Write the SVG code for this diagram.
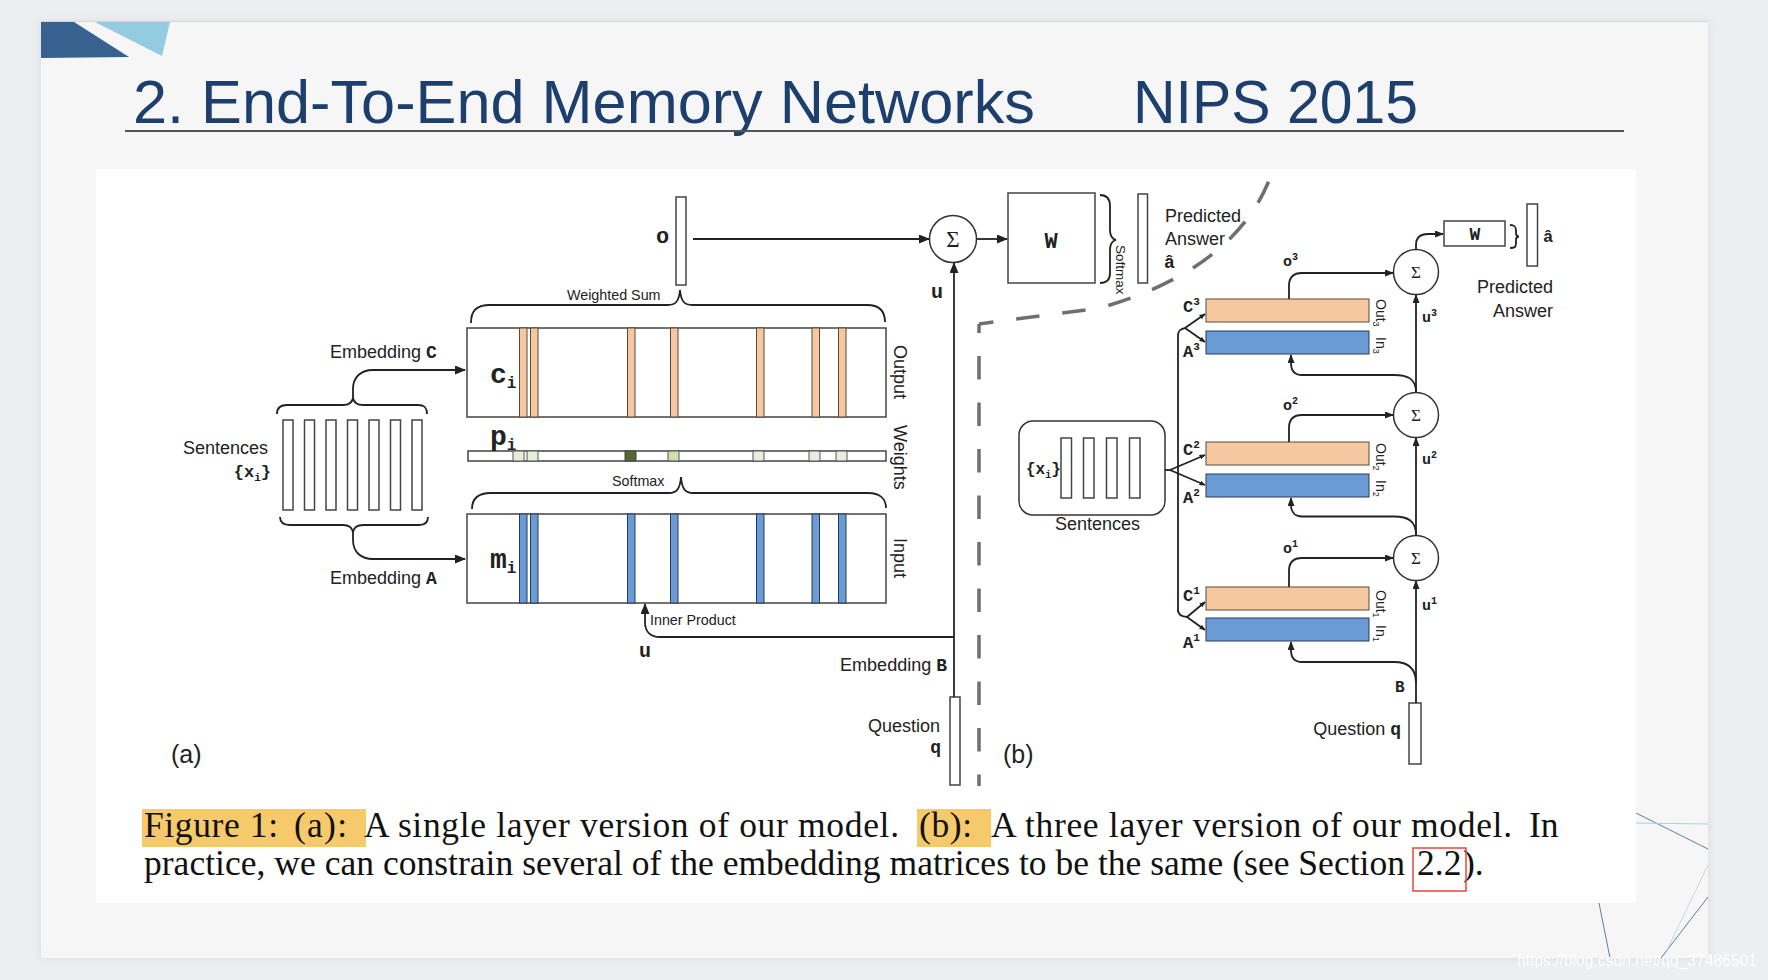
<svg xmlns="http://www.w3.org/2000/svg" width="1768" height="980" viewBox="0 0 1768 980">
<defs>
<style>
.lbl{font-family:"Liberation Sans",Arial,sans-serif;font-size:18px;fill:#222}
.sm{font-size:14.3px}
.mono{font-family:"Liberation Mono","Courier New",monospace;font-weight:bold;fill:#222}
.sig{font-family:"Liberation Serif","Times New Roman",serif;fill:#222}
.ln{fill:none;stroke:#222;stroke-width:1.8}
.box{fill:#fff;stroke:#444;stroke-width:1.5}
.or{fill:#f5c8a1;stroke:#5a4a3a;stroke-width:1}
.bl{fill:#6b9bd6;stroke:#2a3a55;stroke-width:1}
.cap{font-family:"Liberation Serif","Times New Roman",serif;font-size:35.5px;fill:#111}
.deco{fill:none;stroke-width:1}
.dash{fill:none;stroke:#6f6f6f;stroke-width:3.5;stroke-dasharray:23.5 23}
</style>
<marker id="arA" markerWidth="11" markerHeight="9" refX="10" refY="4.5" orient="auto" markerUnits="userSpaceOnUse"><path d="M0,0 L11,4.5 L0,9 z" fill="#222"/></marker>
<marker id="arB" markerWidth="9" markerHeight="7" refX="8" refY="3.5" orient="auto" markerUnits="userSpaceOnUse"><path d="M0,0 L9,3.5 L0,7 z" fill="#222"/></marker>
<marker id="arS" markerWidth="6" markerHeight="5" refX="5.5" refY="2.5" orient="auto" markerUnits="userSpaceOnUse"><path d="M0,0 L6,2.5 L0,5 z" fill="#222"/></marker>
<filter id="sh" x="-5%" y="-5%" width="110%" height="110%"><feGaussianBlur stdDeviation="5"/></filter>
</defs>

<!-- slide background -->
<rect x="0" y="0" width="1768" height="980" fill="#eceef1"/>
<rect x="41" y="22" width="1667" height="936" fill="#d9dbe0" filter="url(#sh)"/>
<rect x="41" y="21" width="1667" height="937" fill="#f6f6f6"/>
<line x1="41" y1="21.5" x2="1708" y2="21.5" stroke="#d6d6d6" stroke-width="1"/>

<!-- corner decoration -->
<polygon points="41,22 74,22 129,57 41,58" fill="#37618f"/>
<polygon points="95,22 170,22 162,56" fill="#93cbe0"/>

<!-- bottom-right decorative lines -->
<g id="deco-lines">
<line class="deco" x1="1636" y1="813" x2="1708" y2="849" stroke="#5b7fa8"/>
<line class="deco" x1="1636" y1="823" x2="1708" y2="824" stroke="#a6d3e6"/>
<line class="deco" x1="1599" y1="903" x2="1610" y2="958" stroke="#5b7fa8"/>
<line class="deco" x1="1661" y1="958" x2="1708" y2="897" stroke="#5b7fa8"/>
<line class="deco" x1="1708" y1="865" x2="1667" y2="950" stroke="#b8dcea"/>
</g>

<!-- title -->
<g id="title">
<text x="133" y="123" font-family="Liberation Sans, Arial, sans-serif" font-size="61" fill="#1d3f6e" textLength="902" lengthAdjust="spacingAndGlyphs">2. End-To-End Memory Networks</text>
<text x="1133" y="123" font-family="Liberation Sans, Arial, sans-serif" font-size="61" fill="#1d3f6e" textLength="285" lengthAdjust="spacingAndGlyphs">NIPS 2015</text>
<line x1="125" y1="131" x2="1624" y2="131" stroke="#555" stroke-width="2"/>
</g>

<!-- figure background -->
<rect x="96" y="169" width="1540" height="734" fill="#ffffff"/>

<!-- ================= (a) ================= -->
<g id="a-sentences">
<rect class="box" x="283" y="420" width="10" height="90"/>
<rect class="box" x="304.5" y="420" width="10" height="90"/>
<rect class="box" x="326" y="420" width="10" height="90"/>
<rect class="box" x="347.5" y="420" width="10" height="90"/>
<rect class="box" x="369" y="420" width="10" height="90"/>
<rect class="box" x="390.5" y="420" width="10" height="90"/>
<rect class="box" x="412" y="420" width="10" height="90"/>
<text class="lbl" x="268" y="454" text-anchor="end">Sentences</text>
<text class="mono" x="271" y="477" text-anchor="end" font-size="17" font-weight="normal">{<tspan font-weight="bold">x</tspan><tspan font-size="11" dy="4">i</tspan><tspan dy="-4">}</tspan></text>
</g>

<g id="a-output">
<rect class="box" x="467" y="328" width="419" height="89"/>
<rect class="or" x="519.5" y="328" width="7.5" height="89"/>
<rect class="or" x="530.5" y="328" width="7.5" height="89"/>
<rect class="or" x="627.5" y="328" width="7.5" height="89"/>
<rect class="or" x="670.5" y="328" width="7.5" height="89"/>
<rect class="or" x="756.5" y="328" width="7.5" height="89"/>
<rect class="or" x="812" y="328" width="7.5" height="89"/>
<rect class="or" x="838.5" y="328" width="7.5" height="89"/>
<text class="mono" x="490" y="383" font-size="28">c<tspan font-size="16" dy="5">i</tspan></text>
<text class="lbl" transform="translate(894,345) rotate(90)">Output</text>
</g>

<g id="a-weights">
<rect class="box" x="468" y="451" width="418" height="10"/>
<rect x="513" y="451" width="11" height="10" fill="#e5ecd8" stroke="#555" stroke-width="1"/>
<rect x="527" y="451" width="11" height="10" fill="#e5ecd8" stroke="#555" stroke-width="1"/>
<rect x="625" y="451" width="11" height="10" fill="#56682f" stroke="#444" stroke-width="1"/>
<rect x="668" y="451" width="11" height="10" fill="#cfe0b0" stroke="#555" stroke-width="1"/>
<rect x="753" y="451" width="11" height="10" fill="#e9eedf" stroke="#555" stroke-width="1"/>
<rect x="809" y="451" width="11" height="10" fill="#e9eedf" stroke="#555" stroke-width="1"/>
<rect x="836" y="451" width="11" height="10" fill="#e9eedf" stroke="#555" stroke-width="1"/>
<text class="mono" x="490" y="445" font-size="28">p<tspan font-size="16" dy="5">i</tspan></text>
<text class="lbl" transform="translate(894,425) rotate(90)">Weights</text>
</g>

<g id="a-input">
<rect class="box" x="467" y="514" width="419" height="89"/>
<rect class="bl" x="519.5" y="514" width="7.5" height="89"/>
<rect class="bl" x="530.5" y="514" width="7.5" height="89"/>
<rect class="bl" x="627.5" y="514" width="7.5" height="89"/>
<rect class="bl" x="670.5" y="514" width="7.5" height="89"/>
<rect class="bl" x="756.5" y="514" width="7.5" height="89"/>
<rect class="bl" x="812" y="514" width="7.5" height="89"/>
<rect class="bl" x="838.5" y="514" width="7.5" height="89"/>
<text class="mono" x="490" y="568" font-size="28">m<tspan font-size="16" dy="5">i</tspan></text>
<text class="lbl" transform="translate(894,538) rotate(90)">Input</text>
</g>

<g id="a-o">
<rect class="box" x="676" y="197" width="10" height="88"/>
<text class="mono" x="656" y="243" font-size="22">o</text>
</g>

<g id="a-sum">
<circle cx="953" cy="239" r="23.5" fill="#fff" stroke="#333" stroke-width="1.5"/>
<text class="sig" x="953" y="247" font-size="23" text-anchor="middle">Σ</text>
</g>

<g id="a-W">
<rect class="box" x="1008" y="193" width="87" height="90"/>
<text class="mono" x="1051" y="248" font-size="22" text-anchor="middle">W</text>
<path class="ln" d="M1100,195 C1107,195 1110,199 1110,206 L1110,230 C1110,236 1112,239 1116,240 C1112,241 1110,244 1110,250 L1110,273 C1110,280 1107,283 1100,283"/>
<text class="lbl" style="font-size:13.5px" transform="translate(1116,245) rotate(90)">Softmax</text>
</g>

<g id="a-answer">
<rect class="box" x="1138" y="194" width="9.5" height="89"/>
<text class="lbl" x="1165" y="222">Predicted</text>
<text class="lbl" x="1165" y="245">Answer</text>
<text class="mono" x="1164" y="268" font-size="18">â</text>
</g>

<g id="a-question">
<rect class="box" x="950" y="697" width="10" height="88"/>
<text class="lbl" x="940" y="732" text-anchor="end">Question</text>
<text class="mono" x="941" y="753" font-size="18" text-anchor="end">q</text>
</g>

<g id="a-labels">
<text class="lbl" x="330" y="358">Embedding <tspan class="mono">C</tspan></text>
<text class="lbl" x="330" y="584">Embedding <tspan class="mono">A</tspan></text>
<text class="lbl" x="947" y="671" text-anchor="end">Embedding <tspan class="mono">B</tspan></text>
<text class="lbl sm" x="567" y="300">Weighted Sum</text>
<text class="lbl sm" x="612" y="486">Softmax</text>
<text class="lbl sm" x="650" y="625">Inner Product</text>
<text class="mono" x="931" y="298" font-size="20">u</text>
<text class="mono" x="639" y="657" font-size="20">u</text>
<text class="lbl" style="font-size:25px" x="171" y="763">(a)</text>
</g>

<g id="a-connectors">
<path class="ln" d="M277,414 C277,408 280,405 287,405 L343,405 C349,405 352,403 353,398 C354,403 357,405 363,405 L418,405 C425,405 427,408 427,414"/>
<path class="ln" d="M353,398 L353,389 C353,377 361,370 373,370 L465,370" marker-end="url(#arA)"/>
<path class="ln" d="M280,517 C280,522 283,525 290,525 L343,525 C349,525 352,527 353,532 C354,527 357,525 363,525 L419,525 C426,525 428,522 428,517"/>
<path class="ln" d="M353,532 L353,540 C353,552 361,559 373,559 L465,559" marker-end="url(#arA)"/>
<path class="ln" d="M471,323 C471,311 476,305 490,305 L668,305 C675,305 679,302 680,290 C681,302 685,305 692,305 L867,305 C879,305 885,311 885,322"/>
<path class="ln" d="M472,509 C472,499 477,493 491,493 L669,493 C676,493 680,490 681,477 C682,490 686,493 693,493 L868,493 C880,493 886,499 886,508"/>
<path class="ln" d="M693,239 L929,239" marker-end="url(#arA)"/>
<path class="ln" d="M977,239 L1007,239" marker-end="url(#arA)"/>
<path class="ln" d="M954,697 L954,263" marker-end="url(#arA)"/>
<path class="ln" d="M954,637 L660,637 C651,637 645,632 645,622 L645,604" marker-end="url(#arA)"/>
</g>

<!-- dashed separator -->
<g id="separator">
<path class="dash" d="M979,324 L979,786" stroke-dashoffset="14.5"/>
<path class="dash" d="M979,324 L1100,308 Q1240,268 1273,170" stroke-dashoffset="9"/>
</g>

<!-- ================= (b) ================= -->
<g id="b-sentences">
<rect x="1019" y="421" width="146" height="94" rx="14" fill="#fff" stroke="#333" stroke-width="1.5"/>
<rect class="box" x="1061" y="438" width="10.5" height="60"/>
<rect class="box" x="1083.5" y="438" width="10.5" height="60"/>
<rect class="box" x="1106.5" y="438" width="10.5" height="60"/>
<rect class="box" x="1129.5" y="438" width="10.5" height="60"/>
<text class="mono" x="1026" y="474" font-size="16" font-weight="normal">{<tspan font-weight="bold">x</tspan><tspan font-size="10" dy="4">i</tspan><tspan dy="-4">}</tspan></text>
<text class="lbl" x="1055" y="530">Sentences</text>
</g>

<g id="b-layer3">
<rect class="or" x="1206" y="299" width="163" height="23" stroke="#333" stroke-width="1.5"/>
<rect class="bl" x="1206" y="331" width="163" height="23" stroke="#333" stroke-width="1.5"/>
<text class="mono" x="1183" y="312" font-size="17">C<tspan font-size="11" dy="-7">3</tspan></text>
<text class="mono" x="1183" y="357" font-size="17">A<tspan font-size="11" dy="-7">3</tspan></text>
<text class="lbl" style="font-size:14px" transform="translate(1376,299) rotate(90)">Out<tspan font-size="9" dy="3">3</tspan></text>
<text class="lbl" style="font-size:14px" transform="translate(1376,337) rotate(90)">In<tspan font-size="9" dy="3">3</tspan></text>
</g>

<g id="b-layer2">
<rect class="or" x="1206" y="442" width="163" height="23" stroke="#333" stroke-width="1.5"/>
<rect class="bl" x="1206" y="474" width="163" height="23" stroke="#333" stroke-width="1.5"/>
<text class="mono" x="1183" y="455" font-size="17">C<tspan font-size="11" dy="-7">2</tspan></text>
<text class="mono" x="1183" y="503" font-size="17">A<tspan font-size="11" dy="-7">2</tspan></text>
<text class="lbl" style="font-size:14px" transform="translate(1376,443) rotate(90)">Out<tspan font-size="9" dy="3">2</tspan></text>
<text class="lbl" style="font-size:14px" transform="translate(1376,480) rotate(90)">In<tspan font-size="9" dy="3">2</tspan></text>
</g>

<g id="b-layer1">
<rect class="or" x="1206" y="587" width="163" height="23" stroke="#333" stroke-width="1.5"/>
<rect class="bl" x="1206" y="618" width="163" height="23" stroke="#333" stroke-width="1.5"/>
<text class="mono" x="1183" y="601" font-size="17">C<tspan font-size="11" dy="-7">1</tspan></text>
<text class="mono" x="1183" y="648" font-size="17">A<tspan font-size="11" dy="-7">1</tspan></text>
<text class="lbl" style="font-size:14px" transform="translate(1376,590) rotate(90)">Out<tspan font-size="9" dy="3">1</tspan></text>
<text class="lbl" style="font-size:14px" transform="translate(1376,625) rotate(90)">In<tspan font-size="9" dy="3">1</tspan></text>
</g>

<g id="b-sum3">
<circle cx="1416" cy="272" r="22.5" fill="#fff" stroke="#333" stroke-width="1.5"/>
<text class="sig" x="1416" y="278" font-size="17" text-anchor="middle">Σ</text>
</g>
<g id="b-sum2">
<circle cx="1416" cy="415" r="22.5" fill="#fff" stroke="#333" stroke-width="1.5"/>
<text class="sig" x="1416" y="421" font-size="17" text-anchor="middle">Σ</text>
</g>
<g id="b-sum1">
<circle cx="1416" cy="558" r="22.5" fill="#fff" stroke="#333" stroke-width="1.5"/>
<text class="sig" x="1416" y="564" font-size="17" text-anchor="middle">Σ</text>
</g>

<g id="b-W">
<rect class="box" x="1444" y="221" width="61" height="25"/>
<text class="mono" x="1475" y="240" font-size="18" text-anchor="middle">W</text>
<path class="ln" d="M1510,225 C1515,225 1516,227 1516,231 L1516,233 C1516,235 1517,236.5 1519,236.5 C1517,236.5 1516,238 1516,240 L1516,243 C1516,247 1515,248 1510,248"/>
</g>

<g id="b-answer">
<rect class="box" x="1527" y="204" width="10.5" height="62"/>
<text class="mono" x="1543" y="242" font-size="17">â</text>
<text class="lbl" x="1553" y="293" text-anchor="end">Predicted</text>
<text class="lbl" x="1553" y="317" text-anchor="end">Answer</text>
</g>

<g id="b-question">
<rect class="box" x="1409" y="703" width="12" height="61"/>
<text class="lbl" x="1401" y="735" text-anchor="end">Question <tspan class="mono">q</tspan></text>
</g>

<g id="b-labels">
<text class="mono" x="1283" y="266" font-size="15">o<tspan font-size="10" dy="-6">3</tspan></text>
<text class="mono" x="1283" y="410" font-size="15">o<tspan font-size="10" dy="-6">2</tspan></text>
<text class="mono" x="1283" y="553" font-size="15">o<tspan font-size="10" dy="-6">1</tspan></text>
<text class="mono" x="1422" y="322" font-size="15">u<tspan font-size="10" dy="-6">3</tspan></text>
<text class="mono" x="1422" y="464" font-size="15">u<tspan font-size="10" dy="-6">2</tspan></text>
<text class="mono" x="1422" y="610" font-size="15">u<tspan font-size="10" dy="-6">1</tspan></text>
<text class="mono" x="1395" y="692" font-size="16">B</text>
<text class="lbl" style="font-size:25px" x="1003" y="763">(b)</text>
</g>

<g id="b-connectors">
<path class="ln" d="M1178,612 L1178,336 C1178,331 1180,329 1185,328"/>
<path class="ln" d="M1185,328 L1205,314" marker-end="url(#arS)"/>
<path class="ln" d="M1185,328 L1205,342" marker-end="url(#arS)"/>
<path class="ln" d="M1165,470 L1170,470"/>
<path class="ln" d="M1170,470 L1205,455" marker-end="url(#arS)"/>
<path class="ln" d="M1170,470 L1205,485" marker-end="url(#arS)"/>
<path class="ln" d="M1178,610 C1178,614 1181,616.5 1187,617"/>
<path class="ln" d="M1187,617 L1205,602" marker-end="url(#arS)"/>
<path class="ln" d="M1187,617 L1205,630" marker-end="url(#arS)"/>
<path class="ln" d="M1416,703 L1416,581" marker-end="url(#arB)"/>
<path class="ln" d="M1416,535.5 L1416,438" marker-end="url(#arB)"/>
<path class="ln" d="M1416,392.5 L1416,295" marker-end="url(#arB)"/>
<path class="ln" d="M1416,249.5 L1416,245 C1416,237 1420,234 1428,234 L1443,234" marker-end="url(#arB)"/>
<path class="ln" d="M1416,683 C1416,668 1408,662 1394,662 L1302,662 C1295,662 1291,658 1291,650 L1291,642" marker-end="url(#arB)"/>
<path class="ln" d="M1416,535 C1416,521 1408,516.5 1394,516.5 L1302,516.5 C1295,516.5 1291,512 1291,505 L1291,498" marker-end="url(#arB)"/>
<path class="ln" d="M1416,392 C1416,379 1408,375 1394,375 L1302,375 C1295,375 1291,371 1291,363 L1291,355" marker-end="url(#arB)"/>
<path class="ln" d="M1289,299 L1289,286 C1289,277 1293,273 1302,273 L1393,273" marker-end="url(#arB)"/>
<path class="ln" d="M1289,442 L1289,428 C1289,419 1293,415 1302,415 L1393,415" marker-end="url(#arB)"/>
<path class="ln" d="M1289,587 L1289,571 C1289,562 1293,558 1302,558 L1393,558" marker-end="url(#arB)"/>
</g>

<!-- caption -->
<g id="caption">
<rect x="142" y="809" width="224" height="38" fill="#f6c96a"/>
<rect x="917" y="809" width="74" height="38" fill="#f6c96a"/>
<text class="cap" x="144" y="837" textLength="134" lengthAdjust="spacing">Figure 1:</text>
<text class="cap" x="294" y="837" textLength="53" lengthAdjust="spacing">(a):</text>
<text class="cap" x="364" y="837" textLength="535" lengthAdjust="spacing">A single layer version of our model.</text>
<text class="cap" x="919" y="837" textLength="53" lengthAdjust="spacing">(b):</text>
<text class="cap" x="991" y="837" textLength="521" lengthAdjust="spacing">A three layer version of our model.</text>
<text class="cap" x="1529" y="837">In</text>
<text class="cap" x="144" y="875" textLength="1261" lengthAdjust="spacing">practice, we can constrain several of the embedding matrices to be the same (see Section</text>
<text class="cap" x="1417" y="875">2.2</text>
<text class="cap" x="1463" y="875">).</text>
<rect x="1413" y="848" width="53" height="43" fill="none" stroke="#e8453c" stroke-width="1.5"/>
</g>

<text x="1517" y="966" font-family="Liberation Sans, Arial, sans-serif" font-size="16" textLength="240" lengthAdjust="spacingAndGlyphs" fill="#ffffff" opacity="0.9">https://blog.csdn.net/qq_37486501</text>
</svg>
